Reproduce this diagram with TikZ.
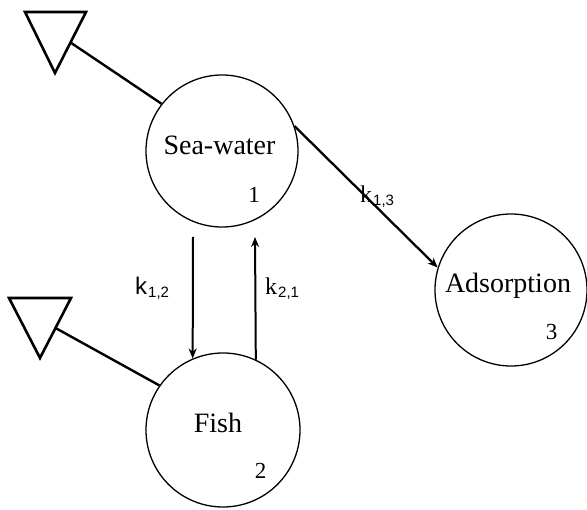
\documentclass[tikz,border=0pt]{standalone}
\usepackage{fontspec}
\setmainfont{Liberation Serif}
\newfontfamily\sansf{Liberation Sans}
\usetikzlibrary{arrows.meta}
% rate constant: letter k followed by a lowered sans-serif index
\newcommand\ratek[2]{#1\kern1pt\raisebox{-3pt}{\sansf\fontsize{15}{15}\selectfont #2}}
\begin{document}
\begin{tikzpicture}[x=1pt,y=-1pt,
  compartment/.style={circle,draw,line width=1.3pt,inner sep=0pt},
  title/.style={inner sep=0pt,anchor=base,font=\fontsize{28}{30}\selectfont},
  index/.style={inner sep=0pt,anchor=base,font=\fontsize{23}{25}\selectfont},
  rate/.style={inner sep=0pt,anchor=base west,font=\fontsize{24}{26}\selectfont},
  sink/.style={draw,line width=2.6pt,line join=miter},
  leak/.style={line width=2.4pt},
  flow/.style={line width=2pt,-{Stealth[length=10pt,width=8pt]}}]
\useasboundingbox (0,0) rectangle (587,510);

% compartments
\node[compartment,minimum size=152pt] (sw)  at (222,151) {};
\node[compartment,minimum size=154pt] (fish) at (223,430) {};
\node[compartment,minimum size=152pt] (ads) at (511,290) {};

\node[title] (swt) at (219.5,155) {Sea-water};
\node[index] (swn) at (254,203) {1};
\node[title] (fisht) at (218,433) {Fish};
\node[index] (fishn) at (260.5,479) {2};
\node[title] (adst) at (508,293) {Adsorption};
\node[index] (adsn) at (551.5,340) {3};

% elimination sinks
\draw[sink] (25,12) -- (86,12) -- (55,73) -- cycle;
\coordinate (sinkA) at (70.5,42.5);
\draw[sink] (9,298) -- (71,298) -- (40,358) -- cycle;
\coordinate (sinkB) at (55.5,328);
\draw[leak] (sw.142) -- (sinkA);
\draw[leak] (fish.145) -- (sinkB);

% transfer between compartments
\coordinate (d1) at (193,237);
\coordinate (u1) at (255,237);
\draw[flow] (d1) -- (fish.113);
\draw[flow] (fish.65.4) -- (u1);
\draw[flow,line width=2.3pt] (sw.19) -- (ads.163);

\node[rate] (k12) at (135,295) {\ratek{\sansf k}{1,2}};
\node[rate] (k21) at (265,295) {\ratek{k}{2,1}};
\node[rate] (k13) at (360,203) {\ratek{k}{1,3}};
\end{tikzpicture}
\end{document}
